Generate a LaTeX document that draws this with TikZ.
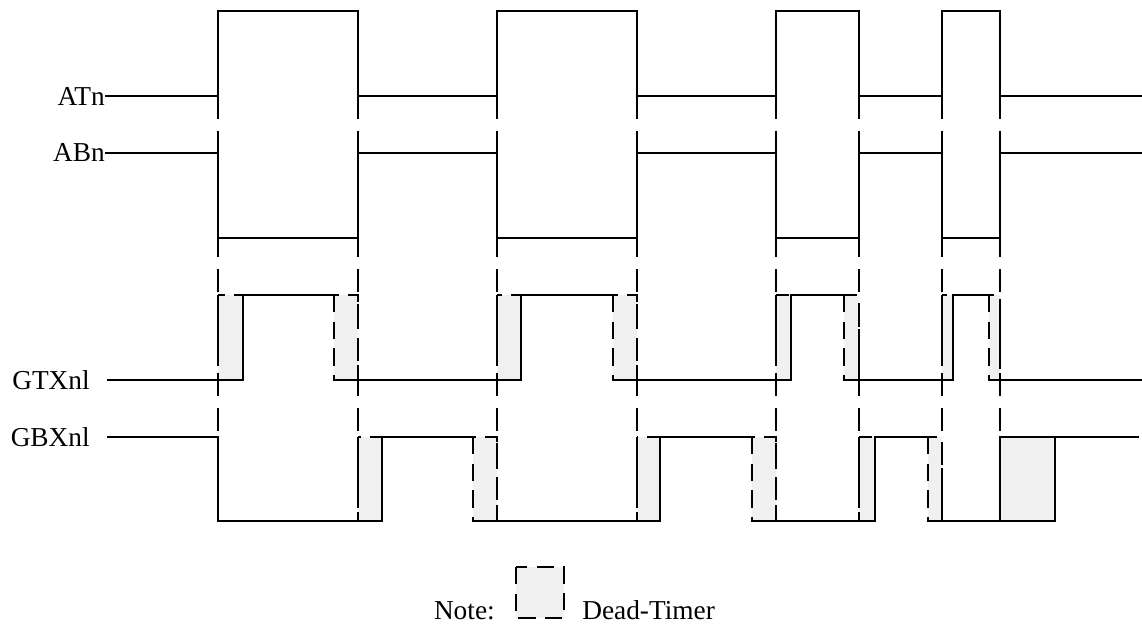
\documentclass[tikz,border=0pt]{standalone}
\usepackage{fontspec}
\setmainfont{Liberation Serif}
\usepackage{tikz}
\usetikzlibrary{calc}
\definecolor{deadfill}{HTML}{F0F0F0}

\begin{document}
\begin{tikzpicture}[x=0.75pt, y=-0.75pt, wave/.style={line width=1.9pt}, guide/.style={line width=1.9pt, dash pattern=on 17pt off 9pt}, dead/.style={fill=deadfill, line width=1.9pt, dash pattern=on 13pt off 7pt}, sig/.style={font=\fontsize{20.5}{24}\selectfont, inner sep=0pt}]
\useasboundingbox (0,0) rectangle (1142,627);
\node[sig, anchor=east] (ATn) at (105,96) {ATn};
\node[sig, anchor=east] (ABn) at (105,153) {ABn};
\node[sig, anchor=east] (GTX) at (90,380) {GTXnl};
\node[sig, anchor=east] (GBX) at (90,437) {GBXnl};
% dead-time boxes
\foreach \a/\b in {218/243, 334/358, 497/521, 613/637, 776/791, 844/859, 942/953, 989/1000}
  \draw[dead] (\a,295) rectangle (\b,380);
\foreach \a/\b in {358/382, 473/497, 637/660, 752/776, 859/875, 928/942}
  \draw[dead] (\a,437) rectangle (\b,521);
\draw[wave, fill=deadfill] (1000,437) rectangle (1055,521);
% edges
\foreach \x in {218,358,497,637,776,859,942}
  \draw[guide] (\x,96) -- (\x,521);
\draw[guide] (1000,96) -- (1000,437);
% signals
\draw[wave] (ATn.east) -- (218,96) -- (218,11) -- (358,11) -- (358,96) -- (497,96) -- (497,11) -- (637,11) -- (637,96) -- (776,96) -- (776,11) -- (859,11) -- (859,96) -- (942,96) -- (942,11) -- (1000,11) -- (1000,96) -- (1142,96);
\draw[wave] (ABn.east) -- (218,153) -- (218,238) -- (358,238) -- (358,153) -- (497,153) -- (497,238) -- (637,238) -- (637,153) -- (776,153) -- (776,238) -- (859,238) -- (859,153) -- (942,153) -- (942,238) -- (1000,238) -- (1000,153) -- (1142,153);
\draw[wave] (107,380) -- (243,380) -- (243,295) -- (334,295) (334,380) -- (521,380) -- (521,295) -- (613,295) (613,380) -- (791,380) -- (791,295) -- (844,295) (844,380) -- (953,380) -- (953,295) -- (989,295) (989,380) -- (1142,380);
\draw[wave] (107,437) -- (218,437) -- (218,521) -- (382,521) -- (382,437) -- (473,437) (473,521) -- (660,521) -- (660,437) -- (752,437) (752,521) -- (875,521) -- (875,437) -- (928,437) (928,521) -- (1000,521) -- (1000,437) -- (1139,437);
% legend
\draw[dead] (516,567) rectangle (564,618);
\node[sig, anchor=base east] (note) at (495,619) {Note:};
\node[sig, anchor=base west] (dt) at (582,619) {Dead-Timer};
\end{tikzpicture}
\end{document}
